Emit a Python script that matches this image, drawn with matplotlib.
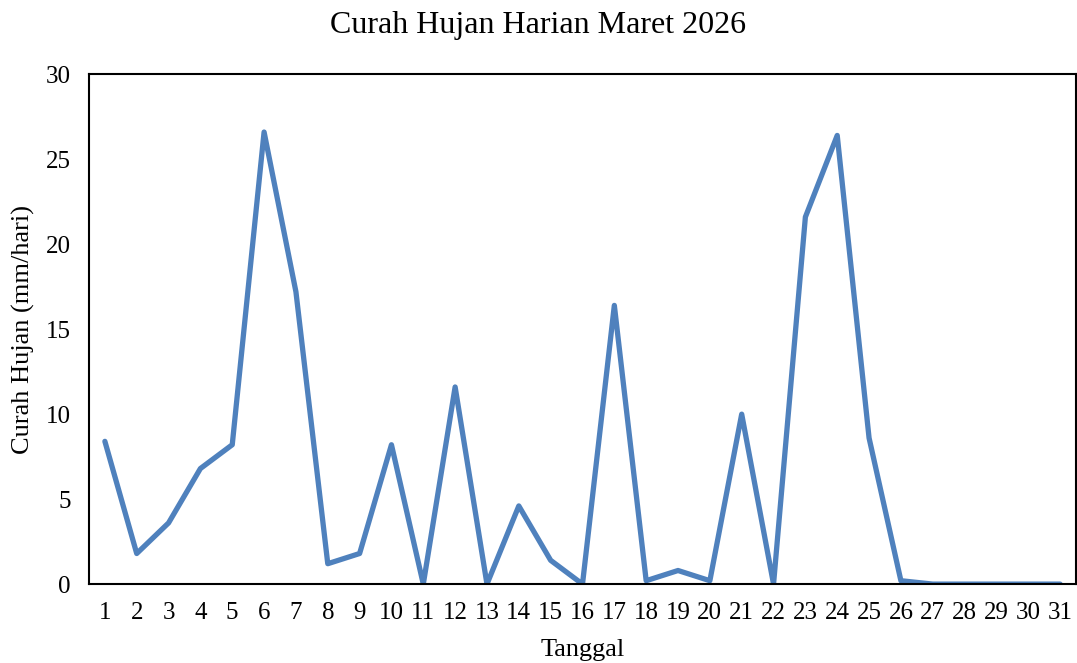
import numpy as np
import matplotlib.pyplot as plt

plt.rcParams['font.family'] = ['Liberation Serif', 'DejaVu Serif']

# data curah hujan harian
tanggal = list(range(1, 32))
curah_hujan = [8.4, 1.8, 3.6, 6.8, 8.2, 26.6, 17.2, 1.2, 1.8, 8.2,
               0.0, 11.6, 0.0, 4.6, 1.4, 0.0, 16.4, 0.2, 0.8, 0.2,
               10.0, 0.0, 21.6, 26.4, 8.6, 0.2, 0.0, 0.0, 0.0, 0.0, 0.0]
y_ticks = [0, 5, 10, 15, 20, 25, 30]

fig = plt.figure(figsize=(10.77, 6.63), dpi=100)
ax = fig.add_axes([0.0826, 0.119, 0.9165, 0.769])

ax.plot(tanggal, curah_hujan, color='#4F81BD', linewidth=3.8,
        solid_joinstyle='round', solid_capstyle='round')

ax.set_xlim(0.5, 31.5)
ax.set_ylim(0, 30)
ax.set_xticks(tanggal)
ax.set_yticks(y_ticks)
ax.tick_params(axis='both', length=0, labelsize=18)
ax.tick_params(axis='x', pad=13)
ax.tick_params(axis='y', pad=13)

for s in ax.spines.values():
    s.set_color('black')
    s.set_linewidth(1.5)

# judul di tengah gambar
fig.suptitle('Curah Hujan Harian Maret 2026', fontsize=23, x=0.5, y=0.962, va='center')
ax.set_xlabel('Tanggal', fontsize=19, labelpad=11)
ax.set_ylabel('Curah Hujan (mm/hari)', fontsize=19, labelpad=8)

fig.savefig('out.png', dpi=100)
